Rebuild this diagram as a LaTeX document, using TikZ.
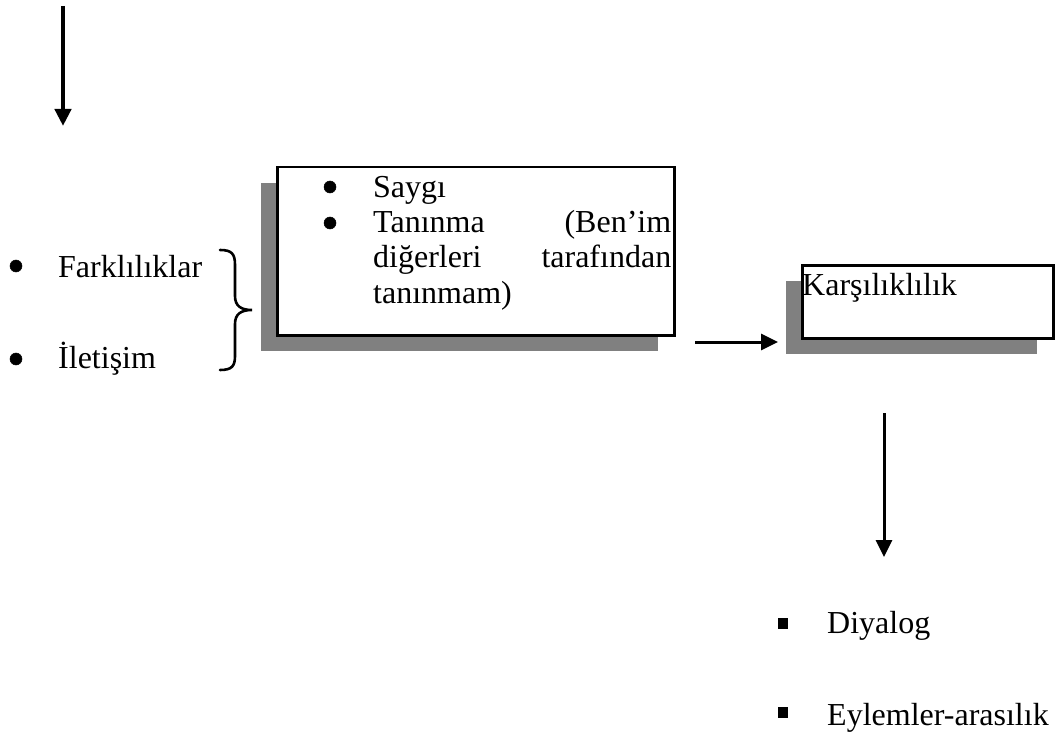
\documentclass[tikz,border=0pt]{standalone}
\usepackage{fontspec}
\setmainfont{Liberation Serif}
\usetikzlibrary{arrows.meta,shadows,positioning}
\definecolor{shadowgray}{RGB}{128,128,128}
\tikzset{
  shadow box/.style = {
    shape = rectangle,
    draw  = black,
    fill  = white,
    line width = 2.5pt,
    inner sep = 0pt,
    anchor = north west,
    drop shadow = {shadow xshift = -16pt, shadow yshift = -16pt,
                   opacity = 1, fill = shadowgray}},
  item text/.style = {anchor = base west, inner sep = 0pt},
  round bullet/.style = {circle, fill = black, draw = black, line width = 0.5pt,
    inner sep = 0pt, minimum size = 12pt},
  square bullet/.style = {rectangle, fill = black, inner sep = 0pt,
    minimum width = 10pt, minimum height = 11pt},
  flow arrow/.style = {-{Triangle[length = 17pt, width = 16pt]}, line width = 3pt}
}

\begin{document}
\begin{tikzpicture}[x = 1pt, y = -1pt, font = \fontsize{32}{35}\selectfont]
  \useasboundingbox (0,0) rectangle (1056,735);
  % arrow coming in from above
  \coordinate (in start) at (63,6);
  \coordinate (in end) at (63,126);
  \draw[flow arrow, line width = 4.5pt] (in start) -- (in end);

  % left list and brace
  \node[round bullet] (bul diff) at (16,266) {};
  \node[item text] (diff) at (58,277) {Farklılıklar};
  \node[round bullet] (bul comm) at (16,359) {};
  \node[item text] (comm) at (58,368) {İletişim};
  \draw[line width = 2.6pt, line cap = round]
    (220,250) .. controls (232,250) and (235,254) .. (235,265) -- (235,296)
    .. controls (235,306) and (241,310) .. (252,310)
    .. controls (241,310) and (235,314) .. (235,324) -- (235,356)
    .. controls (235,366) and (232,370) .. (220,370);

  % first box
  \node[shadow box, minimum width = 397pt, minimum height = 168pt] (recog) at (276,166) {};
  \node[round bullet] (bul resp) at (330,187) {};
  \node[round bullet] (bul rec) at (330,223) {};
  \node[item text, text width = 298pt, align = justify] (recog text) at (373,198)
    {\tolerance=10000 \hyphenpenalty=10000
     Saygı\\Tanınma (Ben’im diğerleri tarafından tanınmam)};

  % second box
  \coordinate (flow start) at (695,342);
  \coordinate (flow end) at (778,342);
  \draw[flow arrow] (flow start) -- (flow end);
  \node[shadow box, minimum width = 251pt, minimum height = 73pt] (recip) at (801,264) {};
  \node[item text] (recip text) at (802,295) {Karşılıklılık};

  % outcome list
  \coordinate (down start) at (884,413);
  \coordinate (down end) at (884,557);
  \draw[flow arrow] (down start) -- (down end);
  \node[square bullet] (bul dia) at (783,623) {};
  \node[item text] (dia) at (827,633) {Diyalog};
  \node[square bullet] (bul act) at (783,712) {};
  \node[item text] (act) at (827,725) {Eylemler-arasılık};
\end{tikzpicture}
\end{document}
